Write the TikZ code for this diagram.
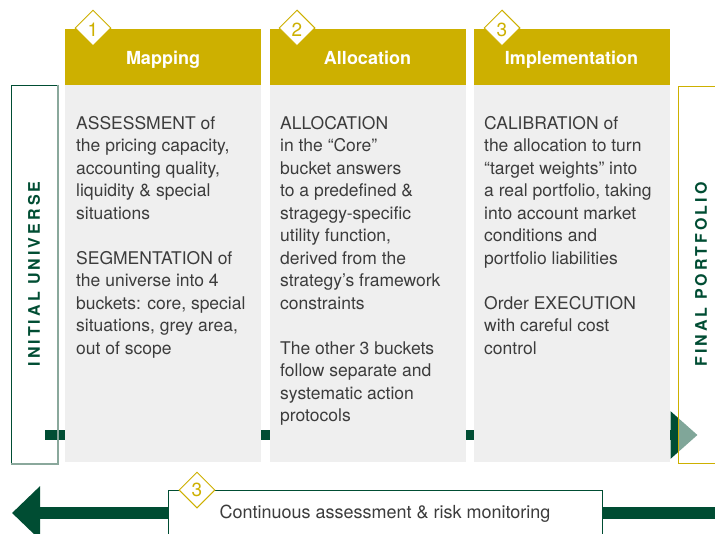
\documentclass[tikz,border=0pt]{standalone}
\usepackage{fontspec}
\setmainfont{TeX Gyre Heros}
\newfontfamily\spacedfont[LetterSpace=19]{TeX Gyre Heros}
\usetikzlibrary{shapes.geometric,arrows.meta,backgrounds}
\definecolor{gold}{HTML}{CDB000}
\definecolor{dkgreen}{HTML}{004D33}
\definecolor{colbody}{HTML}{EFEFEF}
\definecolor{txt}{HTML}{3C3C3C}
\definecolor{shadowgreen}{HTML}{8AA89C}
\begin{document}
\begin{tikzpicture}[x=1pt,y=-1pt,
  head/.style={fill=gold, text=white, font=\fontsize{18}{22}\selectfont\bfseries,
    minimum width=196pt, minimum height=56pt, inner sep=0pt, text height=14pt, text depth=0pt},
  colbox/.style={fill=colbody, minimum width=196pt, minimum height=377pt, inner sep=0pt},
  body/.style={anchor=north west, inner sep=0pt, align=left, text=txt,
    font=\fontsize{17.5}{22.5}\selectfont},
  diam/.style={diamond, draw=gold, fill=white, line width=1pt, minimum width=36pt,
    minimum height=36pt, inner sep=0pt, text=gold, font=\fontsize{19}{19}\selectfont},
  sidelabel/.style={rotate=90, text=dkgreen, font=\fontsize{16}{16}\selectfont\spacedfont\bfseries},
  flow/.style={dkgreen, line width=10pt, -{Triangle[length=27pt,width=46pt]}},
  bigflow/.style={dkgreen, line width=12.5pt, -{Triangle[length=28pt,width=52pt]}}
]
\useasboundingbox (0,0) rectangle (715,533);

% side boxes
\node[draw=dkgreen, line width=1pt, minimum width=46pt, minimum height=378pt, inner sep=0pt]
  (init) at (34,274) {};
\draw[shadowgreen, line width=1.5pt] ([xshift=0.5pt]init.north east) -- ([xshift=0.5pt,yshift=-0.5pt]init.south east) -- ([yshift=-0.5pt]init.south west);
\node[sidelabel] (initlabel) at (init.center) {INITIAL UNIVERSE};

\node[draw=gold, line width=1pt, fill=white, fill opacity=0.5, text opacity=1,
  minimum width=46pt, minimum height=377pt, inner sep=0pt] (final) at (701,274.5) {};
\node[sidelabel] (finallabel) at (final.center) {FINAL PORTFOLIO};

% columns
\node[head] (h1) at (163,57) {Mapping};
\node[head] (h2) at (367.5,57) {Allocation};
\node[head] (h3) at (571.5,57) {Implementation};
\node[colbox, anchor=north] (b1) at (h1.south) {};
\node[colbox, anchor=north] (b2) at (h2.south) {};
\node[colbox, anchor=north] (b3) at (h3.south) {};

\node[diam, text height=16pt, text depth=0pt] (d1) at (93,28) {1};
\node[diam, text height=16pt, text depth=0pt] (d2) at (297,28) {2};
\node[diam, text height=16pt, text depth=0pt] (d3) at (502,28) {3};

\node[body] (t1) at (76,116) {ASSESSMENT of\\the pricing capacity,\\accounting quality,\\liquidity \& special\\situations\\[22.5pt]SEGMENTATION of\\the universe into 4\\buckets: core, special\\situations, grey area,\\out of scope};
\node[body] (t2) at (280,116) {ALLOCATION\\in the “Core”\\bucket answers\\to a predefined \&\\stragegy-specific\\utility function,\\derived from the\\strategy’s framework\\constraints\\[22.5pt]The other 3 buckets\\follow separate and\\systematic action\\protocols};
\node[body] (t3) at (484,116) {CALIBRATION of\\the allocation to turn\\“target weights” into\\a real portfolio, taking\\into account market\\conditions and\\portfolio liabilities\\[22.5pt]Order EXECUTION\\with careful cost\\control};

% bottom monitoring box
\node[draw=dkgreen, line width=1pt, fill=white, minimum width=434pt, minimum height=80pt, inner sep=0pt]
  (mon) at (385,530) {};
\node[anchor=base, inner sep=0pt, text=txt, font=\fontsize{18}{22.5}\selectfont] (montext) at (385,518) {Continuous assessment \& risk monitoring};
\node[diam] (d4) at (197,490) {3};

% connectors
\coordinate (start) at (45,435);
\coordinate (rightend) at (725,513);
\coordinate (lefttip) at (12,513);
\begin{scope}[on background layer]
  \draw[flow] (start) -- ([xshift=20pt]final.west |- start);
  \draw[bigflow] (rightend) -- (lefttip);
\end{scope}
\end{tikzpicture}
\end{document}
